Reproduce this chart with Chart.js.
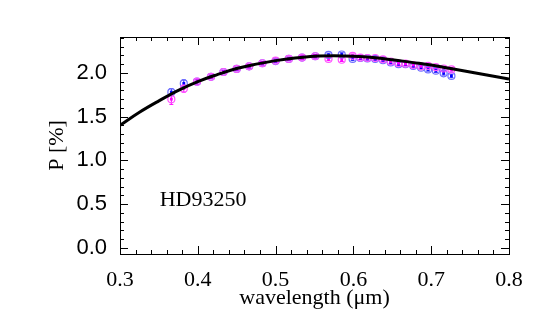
<!DOCTYPE html>
<html lang="en">
<head>
    <meta charset="UTF-8">
    <title>HD93250 polarization</title>
    <style>
        body { margin: 0; background: #fff; }
        #wrap { width: 545px; height: 331px; }
    </style>
    <script src="https://cdn.jsdelivr.net/npm/chart.js"></script>
</head>
<body>
    <div id="wrap"><canvas id="polChart" width="545" height="331"></canvas></div>

    <script>
        // observed wavelengths (micron)
        const wavelengths = [0.366, 0.382, 0.399, 0.417, 0.433, 0.450, 0.466, 0.483, 0.500, 0.517,
            0.534, 0.551, 0.568, 0.585, 0.599, 0.609, 0.618, 0.628, 0.638, 0.648,
            0.658, 0.667, 0.677, 0.687, 0.696, 0.706, 0.716, 0.726];
        const bluePol = [1.78, 1.88, 1.90, 1.955, 2.01, 2.045, 2.075, 2.11, 2.135, 2.16,
            2.175, 2.19, 2.205, 2.21, 2.16, 2.17, 2.165, 2.16, 2.145, 2.12,
            2.10, 2.10, 2.08, 2.06, 2.04, 2.025, 1.995, 1.965];
        const blueErr = [0.04, 0.04, 0.03, 0.02, 0.02, 0.02, 0.02, 0.02, 0.02, 0.02,
            0.02, 0.02, 0.02, 0.02, 0.02, 0.02, 0.02, 0.02, 0.02, 0.02,
            0.02, 0.02, 0.02, 0.02, 0.02, 0.02, 0.02, 0.02];
        const magentaPol = [1.70, 1.82, 1.90, 1.955, 2.01, 2.045, 2.075, 2.11, 2.14, 2.16,
            2.175, 2.19, 2.16, 2.15, 2.195, 2.175, 2.17, 2.17, 2.155, 2.13,
            2.11, 2.105, 2.09, 2.075, 2.08, 2.065, 2.05, 2.04];
        const magentaErr = [0.06, 0.04, 0.03, 0.02, 0.02, 0.02, 0.02, 0.02, 0.02, 0.02,
            0.02, 0.02, 0.02, 0.02, 0.02, 0.02, 0.02, 0.02, 0.02, 0.02,
            0.02, 0.02, 0.02, 0.02, 0.02, 0.02, 0.02, 0.02];

        // fitted curve
        const fitWave = [0.300, 0.325, 0.350, 0.375, 0.400, 0.425, 0.450, 0.475, 0.500, 0.525,
            0.550, 0.575, 0.600, 0.625, 0.650, 0.675, 0.700, 0.725, 0.750, 0.775, 0.800];
        const fitPol = [1.40, 1.55, 1.68, 1.80, 1.90, 1.98, 2.05, 2.10, 2.14, 2.17,
            2.19, 2.195, 2.19, 2.175, 2.15, 2.12, 2.09, 2.05, 2.01, 1.97, 1.93];

        const xTicks = [0.3, 0.4, 0.5, 0.6, 0.7, 0.8];
        const yTicks = [0.0, 0.5, 1.0, 1.5, 2.0];
        const starName = 'HD93250';

        const toXY = (xs, ys) => xs.map((x, i) => ({ x: x, y: ys[i] }));

        // error bars drawn under the points
        const errorBars = {
            id: 'errorBars',
            beforeDatasetsDraw(chart) {
                const ctx = chart.ctx;
                const xs = chart.scales.x, ys = chart.scales.y;
                const sets = [[bluePol, blueErr, '#3030ff'], [magentaPol, magentaErr, '#ff00ff']];
                ctx.save();
                ctx.lineWidth = 1;
                sets.forEach(([vals, errs, col]) => {
                    ctx.strokeStyle = col;
                    wavelengths.forEach((w, i) => {
                        const px = xs.getPixelForValue(w);
                        const y1 = ys.getPixelForValue(vals[i] - errs[i]);
                        const y2 = ys.getPixelForValue(vals[i] + errs[i]);
                        ctx.beginPath();
                        ctx.moveTo(px, y1); ctx.lineTo(px, y2);
                        ctx.moveTo(px - 2, y1); ctx.lineTo(px + 2, y1);
                        ctx.moveTo(px - 2, y2); ctx.lineTo(px + 2, y2);
                        ctx.stroke();
                    });
                });
                ctx.restore();
            }
        };

        // IDL style box with inward ticks on all four sides, plus the star label
        const frameBox = {
            id: 'frameBox',
            afterDraw(chart) {
                const ctx = chart.ctx;
                const a = chart.chartArea;
                const xs = chart.scales.x, ys = chart.scales.y;
                ctx.save();
                ctx.strokeStyle = '#000';
                ctx.lineWidth = 1;
                ctx.strokeRect(a.left + 0.5, a.top + 0.5, a.right - a.left, a.bottom - a.top);
                ctx.beginPath();
                for (let k = 0; k <= 25; k++) {
                    const v = 0.3 + k * 0.02;
                    const px = Math.round(xs.getPixelForValue(v)) + 0.5;
                    const len = (k % 5 === 0) ? 8 : 4;
                    ctx.moveTo(px, a.bottom); ctx.lineTo(px, a.bottom - len);
                    ctx.moveTo(px, a.top); ctx.lineTo(px, a.top + len);
                }
                for (let k = 0; k <= 24; k++) {
                    const v = k * 0.1;
                    const py = Math.round(ys.getPixelForValue(v)) + 0.5;
                    const len = (k % 5 === 0) ? 8 : 4;
                    ctx.moveTo(a.left, py); ctx.lineTo(a.left + len, py);
                    ctx.moveTo(a.right, py); ctx.lineTo(a.right - len, py);
                }
                ctx.stroke();

                ctx.fillStyle = '#000';
                ctx.font = '22px "Liberation Serif", serif';
                ctx.textBaseline = 'middle';
                ctx.fillText(starName, xs.getPixelForValue(0.351), ys.getPixelForValue(0.55));
                ctx.restore();
            }
        };

        const ctx = document.getElementById('polChart').getContext('2d');
        new Chart(ctx, {
            type: 'scatter',
            data: {
                datasets: [
                    {
                        type: 'line',
                        data: toXY(fitWave, fitPol),
                        borderColor: '#000',
                        borderWidth: 3,
                        pointRadius: 0,
                        tension: 0.4,
                        fill: false
                    },
                    {
                        data: toXY(wavelengths, magentaPol),
                        pointStyle: 'circle',
                        pointRadius: 3.5,
                        borderColor: '#ff55ff',
                        backgroundColor: 'rgba(0,0,0,0)',
                        pointBorderWidth: 1.2
                    },
                    {
                        data: toXY(wavelengths, bluePol),
                        pointStyle: 'circle',
                        pointRadius: 3.5,
                        borderColor: '#6f6fff',
                        backgroundColor: 'rgba(0,0,0,0)',
                        pointBorderWidth: 1.2
                    },
                    {
                        data: toXY(wavelengths, magentaPol),
                        pointStyle: 'rect',
                        pointRadius: 2,
                        borderColor: '#ff00ff',
                        backgroundColor: '#ff00ff',
                        pointBorderWidth: 0
                    },
                    {
                        data: toXY(wavelengths, bluePol),
                        pointStyle: 'rect',
                        pointRadius: 2,
                        borderColor: '#0000ff',
                        backgroundColor: '#0000ff',
                        pointBorderWidth: 0
                    }
                ]
            },
            options: {
                responsive: false,
                animation: false,
                events: [],
                layout: { padding: { top: 37, right: 36, left: 0, bottom: 0 } },
                plugins: {
                    legend: { display: false },
                    tooltip: { enabled: false }
                },
                scales: {
                    x: {
                        type: 'linear',
                        min: 0.3,
                        max: 0.8,
                        grid: { display: false },
                        border: { display: false },
                        afterBuildTicks: (scale) => { scale.ticks = xTicks.map(v => ({ value: v })); },
                        afterFit: (scale) => { scale.height = 77; },
                        ticks: {
                            color: '#000',
                            padding: 5,
                            maxRotation: 0,
                            font: { family: '"Liberation Serif", serif', size: 22 },
                            callback: (v) => v.toFixed(1)
                        },
                        title: {
                            display: true,
                            text: 'wavelength (\u03bcm)',
                            color: '#000',
                            font: { family: '"Liberation Serif", serif', size: 22 },
                            padding: { top: 0, bottom: 20 }
                        }
                    },
                    y: {
                        type: 'linear',
                        min: -0.07,
                        max: 2.41,
                        grid: { display: false },
                        border: { display: false },
                        afterBuildTicks: (scale) => { scale.ticks = yTicks.map(v => ({ value: v })); },
                        afterFit: (scale) => { scale.width = 120; },
                        ticks: {
                            color: '#000',
                            padding: 5,
                            font: { family: '"Liberation Sans", Arial, sans-serif', size: 22 },
                            callback: (v) => v.toFixed(1)
                        },
                        title: {
                            display: true,
                            text: 'P [%]',
                            color: '#000',
                            font: { family: '"Liberation Serif", serif', size: 22 },
                            padding: { top: 44, bottom: 0 }
                        }
                    }
                }
            },
            plugins: [errorBars, frameBox]
        });
    </script>
</body>
</html>
